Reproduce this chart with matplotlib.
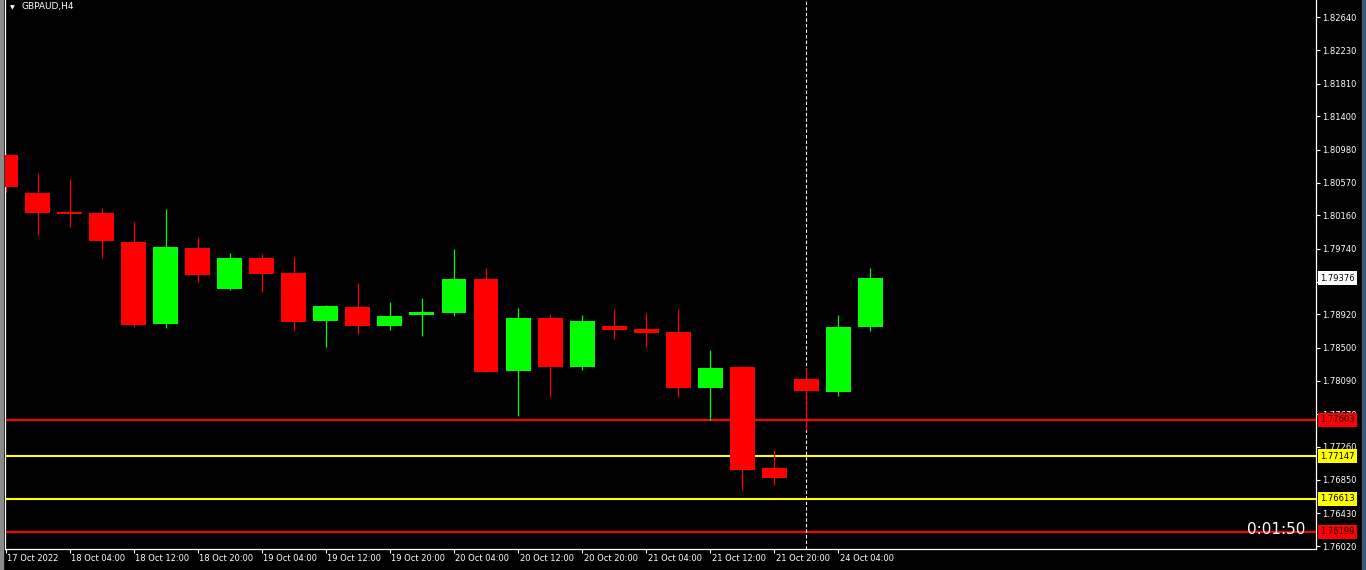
import matplotlib
matplotlib.use('Agg')
import matplotlib.pyplot as plt
import matplotlib.transforms as mtransforms
from matplotlib.patches import Rectangle

plt.rcParams['font.family'] = ['DejaVu Sans']

# chart data (GBPAUD, H4)
symbol = 'GBPAUD,H4'
opens  = [1.80916, 1.80440, 1.80206, 1.80190, 1.79827, 1.78804, 1.79751, 1.79238,
          1.79626, 1.79438, 1.78837, 1.79013, 1.78775, 1.78916, 1.78938, 1.79363,
          1.78211, 1.78875, 1.78261, 1.78775, 1.78737, 1.78700, 1.77999, 1.78261,
          1.76997, 1.78111, 1.77948, 1.78762]
highs  = [1.80925, 1.80690, 1.80615, 1.80252, 1.80077, 1.80240, 1.79889, 1.79689,
          1.79676, 1.79639, 1.79038, 1.79313, 1.79075, 1.79125, 1.79739, 1.79501,
          1.79000, 1.78925, 1.78913, 1.78988, 1.78938, 1.78988, 1.78474, 1.78274,
          1.77222, 1.78249, 1.78913, 1.79501]
lows   = [1.80456, 1.79914, 1.80014, 1.79630, 1.78766, 1.78754, 1.79326, 1.79226,
          1.79201, 1.78725, 1.78512, 1.78675, 1.78725, 1.78650, 1.78900, 1.78199,
          1.77648, 1.77886, 1.78224, 1.78612, 1.78512, 1.77886, 1.77598, 1.76721,
          1.76784, 1.77473, 1.77898, 1.78712]
closes = [1.80515, 1.80193, 1.80181, 1.79843, 1.78787, 1.79764, 1.79413, 1.79626,
          1.79426, 1.78825, 1.79025, 1.78775, 1.78900, 1.78950, 1.79363, 1.78199,
          1.78875, 1.78261, 1.78837, 1.78725, 1.78687, 1.77999, 1.78249, 1.76972,
          1.76872, 1.77961, 1.78762, 1.79376]

time_bars = [0, 2, 4, 6, 8, 10, 12, 14, 16, 18, 20, 22, 24, 26]
time_labels = ['17 Oct 2022', '18 Oct 04:00', '18 Oct 12:00', '18 Oct 20:00',
               '19 Oct 04:00', '19 Oct 12:00', '19 Oct 20:00', '20 Oct 04:00',
               '20 Oct 12:00', '20 Oct 20:00', '21 Oct 04:00', '21 Oct 12:00',
               '21 Oct 20:00', '24 Oct 04:00']
price_ticks = [1.76020, 1.76430, 1.76850, 1.77260, 1.77670, 1.78090, 1.78500,
               1.78920, 1.79330, 1.79740, 1.80160, 1.80570, 1.80980, 1.81400,
               1.81810, 1.82230, 1.82640]

levels = [1.77603, 1.77147, 1.76613, 1.76199]
level_colors = ['#FF0000', '#FFFF00', '#FFFF00', '#FF0000']
last_price = 1.79376
separator_bar = 25
timer = '0:01:50'

BULL = '#00FF00'
BEAR = '#FF0000'


def main():
	W, H = 1366, 570
	fig = plt.figure(figsize=(W / 100, H / 100), dpi=100, facecolor='black')
	ax = fig.add_axes([5 / W, 21.5 / H, 1310.5 / W, 548.5 / H])
	ax.set_facecolor('black')

	# window edges
	fig.patches.append(Rectangle((0, 0), 3 / W, 1, transform=fig.transFigure,
								 color='#8a8a8a', zorder=0))
	fig.patches.append(Rectangle((1361.5 / W, 0), 4.5 / W, 1, transform=fig.transFigure,
								 color='#3b5a78', zorder=0))

	xs = list(range(len(opens)))
	cols = [BULL if c >= o else BEAR for o, c in zip(opens, closes)]

	# lines under the candles
	for lvl, col in zip(levels, level_colors):
		ax.axhline(lvl, color=col, lw=1.5, zorder=1)
	ax.axvline(separator_bar, color='white', lw=0.8, linestyle=(0, (3, 2)), zorder=1)

	ax.vlines(xs, lows, highs, colors=cols, lw=0.9, zorder=2)
	bodies = [abs(c - o) for o, c in zip(opens, closes)]
	bottoms = [min(o, c) for o, c in zip(opens, closes)]
	ax.bar(xs, bodies, bottom=bottoms, width=0.78, color=cols, linewidth=0, zorder=3)

	ax.set_xlim(-0.025, 40.91)
	ax.set_ylim(1.75989, 1.82857)

	for side in ['left', 'right', 'bottom']:
		ax.spines[side].set_color('white')
		ax.spines[side].set_linewidth(0.9)
	ax.spines['top'].set_visible(False)

	ax.yaxis.tick_right()
	ax.set_yticks(price_ticks)
	ax.set_yticklabels(['%.5f' % p for p in price_ticks])
	ax.tick_params(axis='y', colors='white', labelsize=6, length=3, pad=1.5, width=0.8)

	ax.set_xticks(time_bars)
	ax.set_xticklabels(time_labels, ha='left')
	ax.tick_params(axis='x', colors='white', labelsize=6, length=3, pad=1, width=0.8)
	off = mtransforms.ScaledTranslation(1.5 / 100, 0, fig.dpi_scale_trans)
	for lab in ax.get_xticklabels():
		lab.set_transform(lab.get_transform() + off)

	# price labels on the scale
	trans = mtransforms.blended_transform_factory(ax.transAxes, ax.transData)
	for lvl, col in zip(levels, level_colors):
		ax.text(1.0035, lvl, '%.5f' % lvl, transform=trans, fontsize=6, color='black',
				va='center', ha='left', clip_on=False, zorder=5,
				bbox=dict(boxstyle='square,pad=0.3', fc=col, ec='none'))
	ax.text(1.0035, last_price, '%.5f' % last_price, transform=trans, fontsize=6,
			color='black', va='center', ha='left', clip_on=False, zorder=5,
			bbox=dict(boxstyle='square,pad=0.3', fc='white', ec='none'))

	# timer
	ax.text(0.992, 0.034, timer, transform=ax.transAxes, color='white', fontsize=11,
			ha='right', va='center', zorder=5)

	# symbol caption
	fig.text(12 / W, 1 - 7.5 / H, u'\u25BC', color='white', fontsize=4.5, ha='center', va='center')
	fig.text(21 / W, 1 - 7 / H, symbol, color='white', fontsize=6.5, ha='left', va='center')

	fig.savefig('out.png', dpi=100, facecolor='black')


if __name__ == "__main__":
	main()
	print('done')
